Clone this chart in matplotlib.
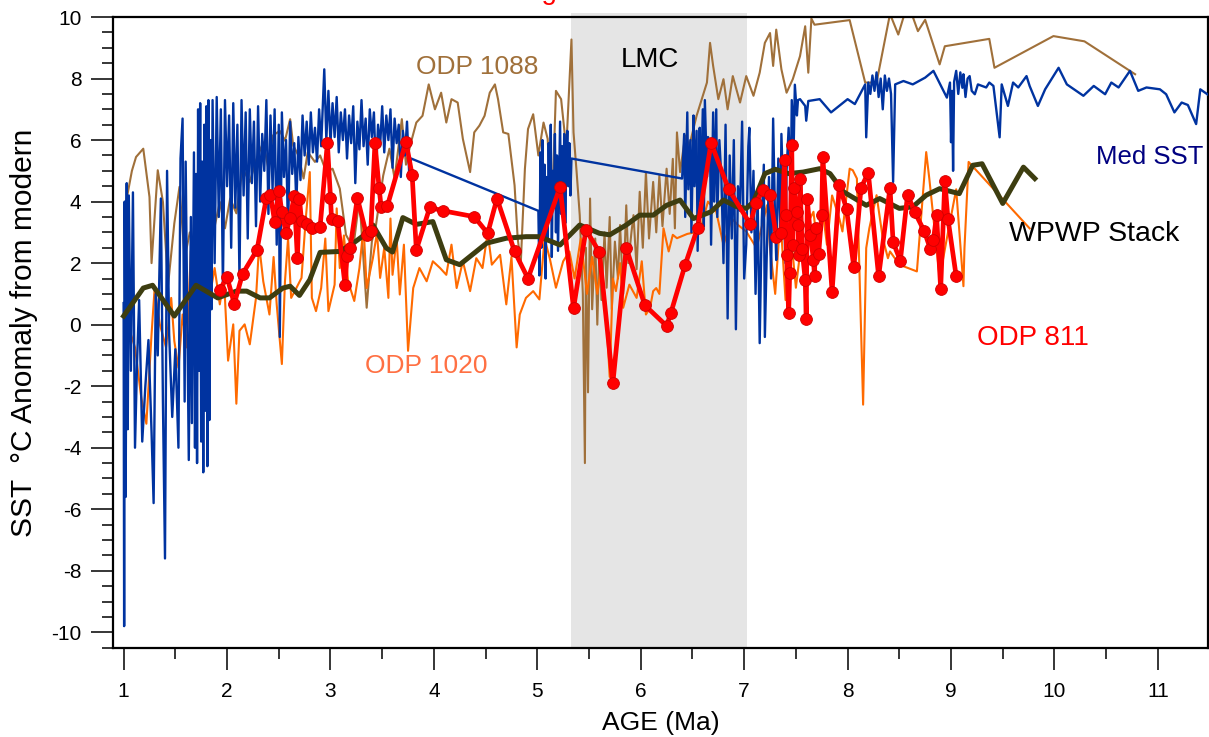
import matplotlib
matplotlib.use("Agg")
import matplotlib.pyplot as plt
from matplotlib.ticker import MultipleLocator

plt.rcParams['font.family'] = ['Liberation Sans', 'DejaVu Sans']
plt.rcParams['axes.unicode_minus'] = False

# Med SST (blue)
med_x = [1.00, 1.005, 1.01, 1.02, 1.03, 1.04, 1.05, 1.07, 1.09, 1.11, 1.13, 1.15, 1.18, 1.21, 1.24, 1.27, 1.29, 1.31,
         1.33, 1.36, 1.38, 1.40, 1.42, 1.44, 1.47, 1.50, 1.53, 1.55, 1.57, 1.59, 1.60, 1.62, 1.63, 1.65, 1.66, 1.68,
         1.69, 1.70, 1.71, 1.72, 1.73, 1.74, 1.75, 1.76, 1.77, 1.78, 1.79, 1.80, 1.81, 1.82, 1.83, 1.84, 1.85,
         1.86, 1.88, 1.90, 1.92, 1.94, 1.96, 1.98, 2.00, 2.02, 2.04, 2.06, 2.08, 2.10, 2.12, 2.14, 2.16, 2.18, 2.20,
         2.22, 2.24, 2.26, 2.28, 2.30, 2.32, 2.34, 2.36, 2.38, 2.40, 2.42, 2.44, 2.46, 2.48, 2.50, 2.51, 2.53, 2.55,
         2.57, 2.59, 2.61, 2.63, 2.65, 2.67, 2.69, 2.71, 2.73, 2.75, 2.77, 2.79, 2.81, 2.83, 2.85, 2.87, 2.89, 2.91,
         2.93, 2.94, 2.96, 2.98, 3.00, 3.02, 3.04, 3.06, 3.08, 3.10, 3.12, 3.14, 3.16, 3.18, 3.20, 3.22, 3.24, 3.26,
         3.28, 3.30, 3.32, 3.34, 3.36, 3.38, 3.40, 3.42, 3.44, 3.46, 3.48, 3.50, 3.52, 3.54, 3.56, 3.58, 3.60, 3.62,
         3.64, 3.66, 3.68, 3.70, 3.72, 3.74, 3.76, 3.78,
         5.01, 5.02, 5.03, 5.04, 5.05, 5.06, 5.07, 5.08, 5.09, 5.10, 5.11, 5.12, 5.13, 5.14, 5.15, 5.16, 5.17, 5.18,
         5.19, 5.20, 5.21, 5.22, 5.23, 5.24, 5.25, 5.26, 5.27, 5.28, 5.29, 5.30, 5.31, 5.32, 5.33,
         6.40, 6.42, 6.43, 6.45, 6.46, 6.48, 6.49, 6.51, 6.52, 6.54, 6.55, 6.57, 6.58, 6.60, 6.61, 6.62, 6.64, 6.65,
         6.67, 6.68, 6.70, 6.71, 6.73, 6.74, 6.76, 6.78, 6.80, 6.82, 6.84, 6.86, 6.88, 6.90, 6.92, 6.94, 6.96, 6.98,
         7.00, 7.02, 7.04, 7.05, 7.07, 7.09, 7.11, 7.13, 7.15, 7.17, 7.19, 7.20, 7.22, 7.24, 7.26, 7.28, 7.30, 7.31,
         7.33, 7.35, 7.36, 7.38, 7.40, 7.41, 7.43, 7.45, 7.46, 7.48, 7.49, 7.51, 7.52,
         7.54, 7.59, 7.60, 7.62, 7.73, 7.84, 8.00, 8.07, 8.17, 8.18, 8.20, 8.22, 8.24, 8.26, 8.28, 8.30, 8.32, 8.34,
         8.36, 8.38, 8.40, 8.42, 8.44, 8.46, 8.54, 8.63, 8.75, 8.83, 8.96, 8.99, 9.00, 9.01, 9.02, 9.03, 9.05, 9.07,
         9.09, 9.11, 9.12, 9.14, 9.16, 9.18, 9.20, 9.23, 9.26, 9.34, 9.37, 9.41, 9.47, 9.49, 9.55, 9.60, 9.65, 9.73,
         9.76, 9.84, 9.91, 10.04, 10.12, 10.28, 10.38, 10.49, 10.55, 10.62, 10.73, 10.81, 10.89, 11.02, 11.08, 11.16,
         11.23, 11.29, 11.37, 11.41, 11.50]
med_y = [0.7, -9.8, 4.0, -5.6, 4.6, -3.4, 4.2, -1.5, 4.3, -4.0, -1.2, 0.8, -3.8, -2.0, -0.5, -3.5, -5.8, 1.0,
         -1.0, 4.1, -2.5, -7.6, 5.0, -0.3, -3.0, -0.8, -4.0, 5.4, 6.7, -2.5, 5.3, -1.0, -4.4, 3.5, -3.2, 5.6,
         -4.0, 4.9, -4.5, 7.0, -1.5, 7.2, -3.8, 5.3, -4.8, 6.5, -2.8, 7.1, -4.6, 7.3, -3.1, 6.0, 0.5,
         7.3, 2.0, 7.4, 3.5, 7.0, 1.2, 7.3, 4.5, 6.8, 2.5, 7.2, 3.8, 6.5, 1.5, 7.3, 4.2, 6.9, 2.8,
         7.0, 4.6, 6.6, 3.2, 7.1, 4.0, 6.2, 5.0, 7.3, 3.6, 6.8, 4.4, 7.0, 2.6, 6.5, -0.4, 6.9, 4.8,
         6.0, 3.0, 6.6, 4.9, 5.9, 3.9, 6.1, 4.7, 6.8, 5.5, 6.6, 5.2, 6.9, 5.6, 6.4, 5.3, 7.0, 5.8,
         7.5, 8.3, 6.0, 7.6, 5.9, 7.2, 6.1, 7.4, 5.6, 6.9, 6.0, 7.0, 5.4, 6.8, 5.9, 7.1, 4.6, 6.6,
         5.7, 7.3, 5.8, 6.7, 5.2, 7.0, 6.1, 6.9, 4.9, 6.5, 5.8, 7.1, 5.6, 6.8, 6.0, 7.0, 5.1, 6.7,
         5.9, 6.5, 4.8, 6.3, 5.5, 6.6, 5.0, 5.4,
         3.7, 1.6, 5.6, 2.5, 6.0, 3.0, 5.2, 1.5, 4.8, 2.8, 5.9, 3.4, 6.5, 2.2, 5.0, 3.8, 6.2, 3.0,
         5.5, 2.4, 4.6, 6.6, 3.6, 5.8, 4.0, 6.2, 3.3, 5.4, 6.3, 4.5, 5.9, 4.2, 5.4,
         4.75, 6.2, 3.5, 6.9, 4.4, 6.0, 3.0, 6.8, 4.5, 6.3, 2.4, 6.4, 4.0, 7.0, 3.2, 7.3, 4.8, 6.1,
         5.8, 2.6, 6.9, 4.0, 7.0, 3.5, 6.0, 4.75, 2.0, 6.5, 0.2, 5.5, 2.8, 6.0, -0.15, 4.5, 3.7, 6.6,
         1.5, 2.6, 5.8, 6.4, 3.0, 5.0, 1.0, 4.2, -0.6, 3.4, 5.2, -0.4, 2.5, 4.8, 1.5, 6.7, 3.2, 2.1,
         5.4, 3.0, 6.2, 4.0, 2.0, 5.0, 6.4, 4.2, 7.3, 6.0, 7.8, 6.8, 7.3,
         7.33, 7.11, 6.63, 7.27, 7.33, 6.90, 7.33, 7.17, 7.81, 6.09, 7.87, 7.5, 8.1, 7.6, 8.2, 7.4, 8.0, 7.0,
         8.1, 7.6, 8.0, 7.5, 4.64, 7.81, 7.92, 7.81, 8.03, 8.25, 7.38, 7.87, 5.93, 7.6, 5.0, 7.9, 8.25, 7.5,
         8.2, 7.7, 8.14, 7.4, 8.0, 8.08, 7.6, 7.49, 7.81, 7.71, 7.87, 7.76, 6.09, 7.81, 7.11, 7.87, 7.71, 8.08,
         7.76, 7.11, 7.65, 8.35, 7.81, 7.44, 7.76, 7.49, 7.87, 7.71, 8.25, 7.60, 7.71, 7.65, 7.49, 6.90,
         7.22, 7.14, 6.52, 7.65, 7.44]

# ODP 1088 (brown)
odp1088_x = [1.01, 1.03, 1.08, 1.12, 1.19, 1.25, 1.27, 1.33, 1.38, 1.43, 1.49, 1.54, 1.59, 1.64, 1.69, 1.74, 1.80,
             1.88, 1.93, 1.98, 2.03, 2.09, 2.15, 2.22, 2.28, 2.35, 2.40, 2.44, 2.51, 2.56, 2.61, 2.64, 2.69, 2.74,
             2.78, 2.85, 2.90, 2.96, 3.02, 3.09, 3.15, 3.22, 3.28, 3.35, 3.40, 3.44, 3.51, 3.57, 3.62, 3.69, 3.73,
             3.77, 3.83, 3.89, 3.95, 4.01, 4.07, 4.12, 4.17, 4.23, 4.28, 4.35, 4.39, 4.44, 4.49, 4.54, 4.59, 4.62,
             4.67, 4.72, 4.78, 4.81, 4.84, 4.88, 4.91, 4.96, 5.01, 5.06, 5.10, 5.14, 5.18, 5.23, 5.28, 5.33, 5.35,
             5.38, 5.41, 5.44, 5.46, 5.47, 5.49, 5.51, 5.53, 5.56, 5.58, 5.60, 5.62, 5.65, 5.67, 5.70, 5.72, 5.75,
             5.78, 5.80, 5.83, 5.86, 5.88, 5.91, 5.93, 5.96, 5.99, 6.02, 6.05, 6.08, 6.12, 6.15, 6.18, 6.21, 6.25,
             6.28, 6.31, 6.33, 6.35, 6.38, 6.43, 6.47, 6.54, 6.59, 6.64, 6.67, 6.70, 6.75, 6.80, 6.84, 6.89, 6.96,
             7.02, 7.09, 7.15, 7.20, 7.25, 7.28, 7.31, 7.36, 7.41, 7.47, 7.54, 7.59, 7.62, 7.65, 7.68, 8.02, 8.17,
             8.28, 8.41, 8.49, 8.55, 8.62, 8.68, 8.75, 8.89, 8.94, 9.37, 9.42, 9.99, 10.29, 10.73, 10.78]
odp1088_y = [3.0, 4.1, 5.0, 5.45, 5.72, 4.15, 2.0, 5.02, 3.99, 1.30, 3.29, 4.48, 2.16, 3.0, 2.54, 0.87, 2.16,
             3.19, 3.99, 3.13, 4.10, 3.62, 5.07, 4.64, 5.34, 5.93, 5.07, 6.14, 6.30, 5.98, 6.68, 5.82, 5.50, 4.75,
             5.61, 5.29, 5.50, 4.96, 5.07, 4.42, 2.92, 2.49, 4.10, 0.55, 2.70, 3.24, 4.85, 5.72, 4.75, 6.68, 5.2,
             5.82, 6.57, 6.79, 7.81, 7.0, 7.54, 6.57, 7.33, 7.22, 6.04, 4.96, 6.25, 6.47, 6.79, 7.54, 7.81, 7.33,
             6.25, 6.20, 4.53, 2.81, 2.0, 5.07, 6.36, 6.84, 5.50, 6.57, 6.04, 3.5, 7.60, 7.33, 5.72, 9.27, 6.25,
             4.96, 3.56, 1.0, -4.5, 2.5, -2.2, 4.10, 0.5, 2.8, 0.0, 2.49, 0.8, 3.0, 1.2, 3.5, 0.5, 2.7,
             1.5, 3.24, 1.0, 3.88, 2.0, 3.0, 3.56, 1.8, 4.32, 2.5, 4.96, 2.8, 4.64, 3.0, 4.85, 3.2, 5.07,
             3.6, 5.39, 3.13, 6.25, 4.96, 6.14, 5.82, 6.79, 7.33, 7.87, 9.16, 8.41, 7.33, 7.98, 7.0, 8.08, 7.22,
             8.08, 7.44, 8.19, 9.16, 9.48, 8.41, 9.59, 8.30, 7.54, 7.98, 8.73, 9.70, 8.19, 9.95, 9.75, 9.9, 7.87,
             7.87, 10.1, 9.43, 10.1, 10.1, 9.54, 9.91, 8.46, 9.05, 9.29, 8.35, 9.38, 9.21, 8.25, 8.14]

# ODP 1020 (orange)
odp1020_x = [1.07, 1.11, 1.17, 1.22, 1.27, 1.30, 1.35, 1.41, 1.46, 1.49, 1.53, 1.57, 1.61, 1.65, 1.69, 1.74, 1.78,
             1.83, 1.88, 1.93, 1.97, 2.01, 2.06, 2.09, 2.12, 2.17, 2.22, 2.28, 2.31, 2.35, 2.41, 2.45, 2.48, 2.53,
             2.56, 2.59, 2.62, 2.67, 2.72, 2.76, 2.80, 2.82, 2.86, 2.91, 2.95, 2.98, 3.04, 3.06, 3.09, 3.13, 3.17,
             3.23, 3.28, 3.32, 3.35, 3.41, 3.45, 3.48, 3.52, 3.56, 3.58, 3.60, 3.64, 3.67, 3.71, 3.75, 3.80, 3.86,
             3.93, 3.99, 4.06, 4.12, 4.17, 4.22, 4.28, 4.35, 4.41, 4.47, 4.52, 4.56, 4.64, 4.70, 4.75, 4.80, 4.83,
             4.89, 4.96, 5.02, 5.07, 5.12, 5.18, 5.25, 5.31, 5.36, 5.42, 5.48, 5.53, 5.58, 5.62, 5.66, 5.70, 5.73,
             5.76, 5.80, 5.83, 5.89, 5.96, 6.01, 6.05, 6.09, 6.12, 6.15, 6.18, 6.22, 6.27, 6.31, 6.35, 6.45, 6.57,
             6.65, 6.73, 6.80, 6.88, 6.94, 7.02, 7.12, 7.22, 7.25, 7.30, 7.35, 7.40, 7.45, 7.50, 7.55, 7.60, 7.63,
             7.67, 7.72, 7.76, 7.80, 7.85, 7.92, 7.95, 8.02, 8.05, 8.09, 8.15, 8.18, 8.21, 8.28, 8.34, 8.39, 8.41,
             8.50, 8.67, 8.76, 8.79, 8.89, 8.96, 9.05, 9.12, 9.13, 9.17, 9.76]
odp1020_y = [-0.31, -0.74, -2.36, -3.22, -0.31, 1.19, 0.01, -0.74, 0.87, -0.53, -1.4, 0.33, -0.74, 2.4, 1.41, -0.42,
             1.6, 0.87, 1.84, 0.66, 1.5, -1.17, 0.01, -2.57, -0.20, 0.01, -0.64, 0.87, 2.6, 1.41, 0.33, 2.2, 0.66,
             -1.28, 1.41, 2.8, 0.87, 1.19, 1.52, 3.4, 4.96, 0.87, 0.44, 1.19, 2.8, 0.44, 1.30, 3.78, 1.84, 2.9,
             1.41, 0.77, 1.84, 3.2, 1.19, 2.16, 3.0, 1.52, 2.5, 0.87, 3.45, 1.62, 2.8, 0.98, 2.6, -0.85, 1.19,
             1.84, 1.41, 2.06, 1.84, 1.62, 2.6, 1.19, 2.06, 1.09, 2.16, 1.84, 3.0, 1.95, 2.27, 0.66, 2.2, -0.74,
             0.33, 0.87, 1.09, 0.82, 2.8, 2.16, 1.2, 2.06, 2.38, 1.5, 2.8, 1.0, 2.2, 1.0, 2.0, 0.6, -1.7, 1.5,
             1.09, 2.0, 0.55, 1.30, 0.87, 2.06, 0.33, 0.55, 1.09, 1.19, 1.0, 3.13, 2.38, 2.92, 2.81, 2.95, 3.03,
             4.0, 3.67, 2.59, 3.45, 3.24, 3.03, 2.49, 3.88, 2.49, 1.0, 3.5, 0.8, 3.0, 1.2, 2.6, 1.0, 3.4,
             3.67, 2.2, 3.67, 2.6, 4.2, 3.45, 3.03, 5.07, 5.02, 4.75, -2.6, 2.49, 3.13, 4.21, 2.81, 2.16, 2.38,
             1.95, 1.73, 5.61, 4.75, 1.52, 2.81, 4.4, 1.25, 2.49, 5.29, 3.13]

# ODP 811 (red, with markers)
odp811_x = [1.93, 2.00, 2.07, 2.15, 2.29, 2.38, 2.42, 2.46, 2.50, 2.53, 2.57, 2.61, 2.65, 2.68, 2.70, 2.72, 2.77,
            2.82, 2.90, 2.97, 3.00, 3.01, 3.07, 3.14, 3.16, 3.19, 3.26, 3.35, 3.39, 3.43, 3.47, 3.49, 3.55, 3.73,
            3.79, 3.83, 3.96, 4.09, 4.39, 4.52, 4.61, 4.78, 4.91, 5.22, 5.35, 5.47, 5.60, 5.73, 5.86, 6.04, 6.25,
            6.29, 6.43, 6.55, 6.68, 6.85, 7.06, 7.11, 7.18, 7.25, 7.31, 7.36, 7.39, 7.40, 7.41, 7.43, 7.44, 7.46,
            7.47, 7.48, 7.51, 7.52, 7.53, 7.54, 7.56, 7.59, 7.60, 7.61, 7.64, 7.67, 7.68, 7.69, 7.72, 7.75, 7.76,
            7.85, 7.92, 7.99, 8.06, 8.13, 8.20, 8.30, 8.41, 8.44, 8.51, 8.58, 8.65, 8.74, 8.80, 8.83, 8.86, 8.90,
            8.94, 8.97, 9.05]
odp811_y = [1.14, 1.54, 0.68, 1.65, 2.43, 4.12, 4.21, 3.35, 4.35, 3.67, 2.97, 3.48, 4.19, 2.16, 4.10, 3.37, 3.26,
            3.13, 3.19, 5.90, 4.13, 3.45, 3.37, 1.30, 2.22, 2.49, 4.12, 2.90, 3.05, 5.90, 4.45, 3.81, 3.86, 5.95,
            4.85, 2.43, 3.81, 3.70, 3.51, 2.97, 4.10, 2.38, 1.50, 4.48, 0.53, 3.08, 2.36, -1.91, 2.49, 0.63, -0.04,
            0.37, 1.95, 3.15, 5.91, 4.40, 3.26, 3.94, 4.37, 4.23, 2.86, 2.97, 5.34, 3.56, 2.27, 0.39, 1.68, 5.84,
            2.59, 4.45, 3.67, 3.24, 2.27, 4.75, 2.46, 1.46, 0.20, 4.08, 2.92, 2.11, 1.57, 3.15, 2.29, 3.58, 5.45,
            1.07, 4.53, 3.76, 1.86, 4.45, 4.94, 1.57, 4.45, 2.68, 2.08, 4.23, 3.65, 3.05, 2.46, 2.75, 3.56, 1.17,
            4.66, 3.45, 1.57]

# WPWP Stack (dark olive)
wpwp_x = [1.00, 1.19, 1.28, 1.49, 1.70, 1.91, 2.09, 2.19, 2.32, 2.41, 2.54, 2.61, 2.70, 2.80, 2.90, 3.09, 3.22,
          3.35, 3.41, 3.54, 3.60, 3.70, 3.83, 3.99, 4.12, 4.25, 4.51, 4.70, 4.89, 5.02, 5.22, 5.41, 5.60, 5.70,
          5.86, 5.99, 6.12, 6.25, 6.38, 6.51, 6.68, 6.80, 6.93, 7.02, 7.09, 7.20, 7.30, 7.43, 7.57, 7.73, 7.83,
          7.96, 8.18, 8.31, 8.50, 8.63, 8.76, 8.89, 9.08, 9.21, 9.30, 9.50, 9.70, 9.81]
wpwp_y = [0.28, 1.19, 1.28, 0.28, 1.28, 0.87, 1.09, 1.09, 0.87, 0.87, 1.19, 1.25, 0.95, 1.46, 2.35, 2.38, 2.65,
          2.97, 3.24, 2.49, 2.36, 3.48, 3.26, 3.35, 2.11, 1.95, 2.65, 2.81, 2.86, 2.86, 2.59, 3.24, 2.97, 2.92,
          3.24, 3.56, 3.56, 3.88, 4.05, 3.45, 3.67, 4.05, 3.83, 3.78, 3.99, 4.91, 5.05, 4.91, 4.96, 5.07, 4.91,
          4.32, 3.88, 4.10, 3.78, 3.83, 4.21, 4.42, 4.26, 5.18, 5.23, 3.94, 5.12, 4.75]

# LMC interval
lmc_start, lmc_end = 5.33, 7.03

fig = plt.figure(figsize=(12.09, 7.37), dpi=100)
ax = fig.add_axes([0.0937, 0.1212, 0.9055, 0.8557])

ax.axvspan(lmc_start, lmc_end, ymin=0, ymax=1.006, color='#e5e5e5', lw=0, zorder=0, clip_on=False)

ax.plot(odp1088_x, odp1088_y, color='#a0703a', lw=1.5, zorder=2)
ax.plot(odp1020_x, odp1020_y, color='#ff6a00', lw=1.5, zorder=3)
ax.plot(med_x, med_y, color='#0033a0', lw=1.7, zorder=4)
ax.plot(wpwp_x, wpwp_y, color='#3d3d10', lw=3.6, zorder=5)
ax.plot(odp811_x, odp811_y, color='#ff0000', lw=3.4, marker='o', ms=8.5,
        mfc='#ff0000', mec='#d00000', mew=0.6, zorder=6)

ax.set_xlim(0.9, 11.485)
ax.set_ylim(-10.5, 10)
ax.xaxis.set_major_locator(MultipleLocator(1))
ax.xaxis.set_minor_locator(MultipleLocator(0.5))
ax.yaxis.set_major_locator(MultipleLocator(2))
ax.yaxis.set_minor_locator(MultipleLocator(0.5))
ax.tick_params(which='both', direction='out', width=1.1, colors='black')
ax.tick_params(which='major', length=16, labelsize=15, pad=7)
ax.tick_params(axis='x', which='major', pad=9)
ax.tick_params(which='minor', length=8)
for s in ax.spines.values():
    s.set_linewidth(1.6)

ax.set_xlabel('AGE (Ma)', fontsize=19, va='center')
ax.xaxis.set_label_coords(0.5, -0.119)
ax.set_ylabel('SST  \u00b0C Anomaly from modern', fontsize=21.5, va='center')
ax.yaxis.set_label_coords(-0.0816, 0.5)

# series labels
ax.text(4.42, 8.37, 'ODP 1088', color='#a0703a', fontsize=19, ha='center', va='center')
ax.text(6.09, 8.6, 'LMC', color='black', fontsize=20, ha='center', va='center')
ax.text(11.44, 5.45, 'Med SST', color='#000080', fontsize=18.5, ha='right', va='center')
ax.text(10.38, 2.94, 'WPWP Stack', color='black', fontsize=20.5, ha='center', va='center')
ax.text(9.79, -0.44, 'ODP 811', color='#ff0000', fontsize=20, ha='center', va='center')
ax.text(3.93, -1.35, 'ODP 1020', color='#ff7043', fontsize=19, ha='center', va='center')

# title sits above the image edge, only the descender of the g shows
fig.text(0.4607, 1.0014, 'Late Miocene Cooling', color='red', fontsize=20, ha='right', va='baseline')

fig.savefig('out.png', dpi=100)
